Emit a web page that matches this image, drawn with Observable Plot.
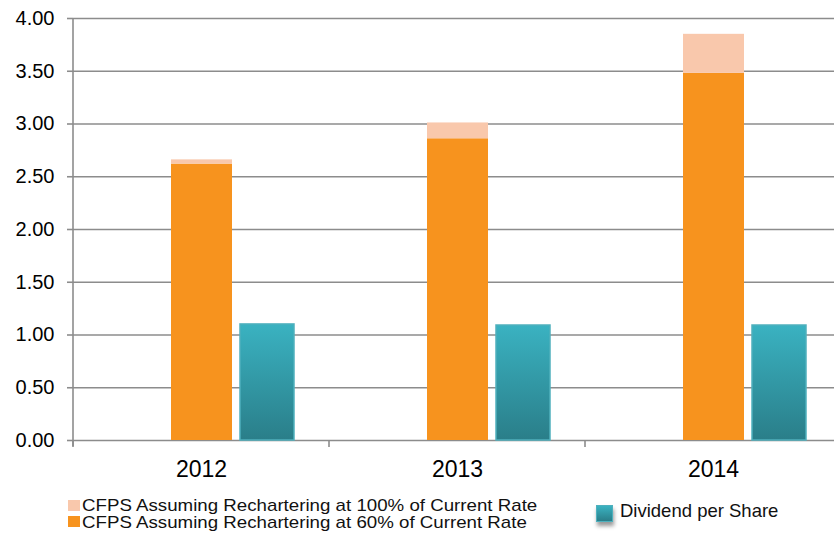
<!DOCTYPE html>
<html>
<head>
<meta charset="utf-8">
<script src="https://cdn.jsdelivr.net/npm/d3@7"></script>
<script src="https://cdn.jsdelivr.net/npm/@observablehq/plot@0.6"></script>
<style>
html, body { margin: 0; padding: 0; background: #fff; overflow: hidden; width: 834px; height: 533px; }
#chart svg { display: block; overflow: visible; }
#legend { position: relative; height: 43px; font-family: "Liberation Sans", Arial, sans-serif; color: #111; }
#legend .sw { position: absolute; }
#legend .tx { position: absolute; white-space: nowrap; }
</style>
</head>
<body>
<div id="chart"></div>
<div id="legend"></div>
<script>
// ---- data ----
const years = ["2012", "2013", "2014"];
const cfps60 = [2.62, 2.86, 3.48];
const cfps100 = [2.66, 3.01, 3.85];
const dividend = [1.10, 1.09, 1.09];
const yTicks = [0, 0.5, 1, 1.5, 2, 2.5, 3, 3.5, 4];
const seriesNames = [
  "CFPS Assuming Rechartering at 100% of Current Rate",
  "CFPS Assuming Rechartering at 60% of Current Rate",
  "Dividend per Share"
];
const colors = ["#F9C8AC", "#F7931E", "#34A3B0"];

const rows = years.map((y, i) => ({year: y, c60: cfps60[i], c100: cfps100[i], div: dividend[i]}));

const W = 834, H = 490;
const plot = Plot.plot({
  width: W,
  height: H,
  marginLeft: 73,
  marginRight: 0,
  marginTop: 18,
  marginBottom: 50,
  style: {fontFamily: "'Liberation Sans', Arial, sans-serif", color: "#000", background: "#fff"},
  x: {domain: years, range: [73, 841], padding: 0, axis: null, label: null},
  y: {domain: [0, 4], axis: null, label: null},
  marks: [
    Plot.ruleY(yTicks, {stroke: "#8c8c8c", strokeWidth: 1.6}),
    Plot.axisY({ticks: yTicks, tickFormat: d3.format(".2f"), tickSize: 6, tickPadding: 13,
                fontSize: 20, stroke: "#8c8c8c", strokeWidth: 1.6, fill: "#000", label: null}),
    Plot.axisX({tickSize: 0, tickPadding: 20, fontSize: 23, fill: "#000", label: null}),
    Plot.barY(rows, {x: "year", y1: 0, y2: "c60", fill: colors[1], insetLeft: 98, insetRight: 97}),
    Plot.barY(rows, {x: "year", y1: "c60", y2: "c100", fill: colors[0], insetLeft: 98, insetRight: 97}),
    Plot.barY(rows, {x: "year", y1: 0, y2: "div", fill: "url(#divGrad)", stroke: "#4fb0bd", strokeWidth: 1.5,
                     insetLeft: 167, insetRight: 35, ariaLabel: "dividend"})
  ]
});
document.getElementById("chart").appendChild(plot);

// gradient + shadow for dividend bars
const svg = d3.select(plot);
const defs = svg.insert("defs", ":first-child");
const g = defs.append("linearGradient").attr("id", "divGrad").attr("x1", 0).attr("y1", 0).attr("x2", 0).attr("y2", 1);
g.append("stop").attr("offset", "0%").attr("stop-color", "#3AB2C1");
g.append("stop").attr("offset", "100%").attr("stop-color", "#2A7E89");
svg.selectAll("g[aria-label='dividend']").style("filter", "drop-shadow(1px 5px 3px rgba(0,0,0,0.45))");

// axis lines & category boundary ticks, from the plot's own scales
const xs = plot.scale("x"), ys = plot.scale("y");
const y0 = ys.apply(0), yTop = ys.apply(4);
const xLeft = xs.apply(years[0]);
const ag = svg.append("g").attr("stroke", "#8c8c8c").attr("stroke-width", 1.6);
ag.append("line").attr("x1", xLeft).attr("x2", xLeft).attr("y1", yTop).attr("y2", y0 + 6);
years.forEach(y => {
  const xb = xs.apply(y);
  ag.append("line").attr("x1", xb).attr("x2", xb).attr("y1", y0).attr("y2", y0 + 7);
});

// legend
const leg = d3.select("#legend");
const items = [
  {name: seriesNames[0], color: colors[0], sx: 68, sy: 9.5, sw: 12, sh: 11, tx: 82, ty: 8.2, fs: 17, lh: 15, stretch: 1.10},
  {name: seriesNames[1], color: colors[1], sx: 68, sy: 26, sw: 12, sh: 11, tx: 82, ty: 25.2, fs: 17, lh: 15, stretch: 1.10},
  {name: seriesNames[2], color: "url", sx: 596, sy: 15, sw: 17, sh: 17, tx: 620, ty: 12.4, fs: 18.5, lh: 18.5, stretch: 1.0}
];
items.forEach(it => {
  const s = leg.append("div").attr("class", "sw")
    .style("left", it.sx + "px").style("top", it.sy + "px")
    .style("width", it.sw + "px").style("height", it.sh + "px");
  if (it.color === "url") {
    s.style("background", "linear-gradient(#3AB2C1, #2A7E89)")
     .style("box-shadow", "1px 4px 4px rgba(0,0,0,0.4)")
     .style("box-sizing", "border-box").style("border", "1px solid #4fb0bd");
  } else {
    s.style("background", it.color);
  }
  leg.append("div").attr("class", "tx")
    .style("left", it.tx + "px").style("top", it.ty + "px")
    .style("font-size", it.fs + "px").style("line-height", it.lh + "px")
    .style("transform", `scaleX(${it.stretch})`).style("transform-origin", "left top")
    .text(it.name);
});
</script>
</body>
</html>
